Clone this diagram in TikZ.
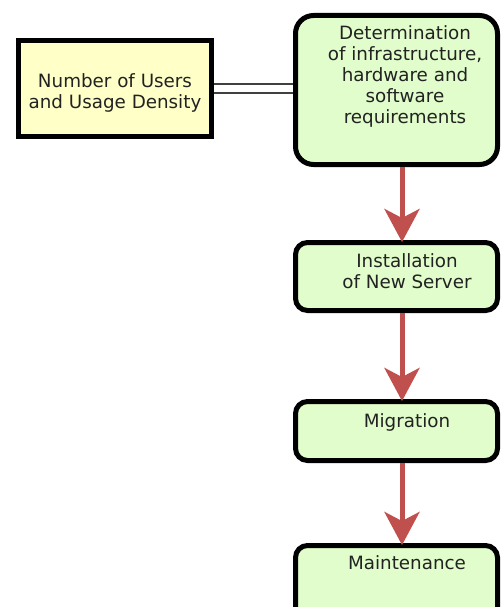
\documentclass[tikz,border=0pt]{standalone}
\usepackage{fontspec}
\setmainfont{DejaVu Sans}
\usetikzlibrary{arrows.meta}
\definecolor{yfill}{HTML}{FFFFC8}
\definecolor{gfill}{HTML}{E1FDCB}
\definecolor{arrred}{HTML}{C0504D}
\definecolor{txt}{HTML}{222222}
\tikzset{
  stepbox/.style={draw=black, line width=5pt, fill=gfill, rounded corners=12pt},
  inbox/.style={draw=black, line width=5pt, fill=yfill},
  lbl/.style={text=txt, font=\fontsize{18.3pt}{21pt}\selectfont, align=center, inner sep=0pt, anchor=base},
  flow/.style={draw=arrred, line width=5pt, -{Stealth[length=33pt,width=35pt,inset=9pt]}, shorten >=-2pt},
  link/.style={draw=black!75, line width=1.8pt, double=white, double distance=6.5pt}
}
\begin{document}
\begin{tikzpicture}[x=1pt,y=1pt]
\clip (0,0) rectangle (502,-607);
\useasboundingbox (0,0) rectangle (502,-607);
% boxes
\draw[inbox] (18.5,-40.5) rectangle (211.5,-136.5);
\draw[stepbox, rounded corners=18pt] (295.5,-15.5) rectangle (497.5,-164.5);
\draw[stepbox] (295.5,-242.5) rectangle (497.5,-310.5);
\draw[stepbox] (295.5,-401.5) rectangle (497.5,-460.5);
\draw[stepbox] (295.5,-545.5) rectangle (497.5,-640);
% connection points of the boxes
\coordinate (b1w) at (293,-88.5);
\coordinate (lbe) at (214,-88.5);
\coordinate (b1s) at (402,-167);
\coordinate (b2n) at (402,-240);
\coordinate (b2s) at (402,-313);
\coordinate (b3n) at (402,-399);
\coordinate (b3s) at (402,-463);
\coordinate (b4n) at (402,-543);
% texts (anchor = baseline of last line)
\node[lbl] (lbt) at (115,-109) {Number of Users\\and Usage Density};
\node[lbl] (t1) at (405,-124) {Determination\\of infrastructure,\\hardware and\\software\\requirements};
\node[lbl] (t2) at (407,-288) {Installation\\of New Server};
\node[lbl] (t3) at (407,-427) {Migration};
\node[lbl] (t4) at (407,-569) {Maintenance};
% connectors
\draw[link] (lbe) -- (b1w);
\draw[flow] (b1s) -- (b2n);
\draw[flow] (b2s) -- (b3n);
\draw[flow] (b3s) -- (b4n);
\end{tikzpicture}
\end{document}
